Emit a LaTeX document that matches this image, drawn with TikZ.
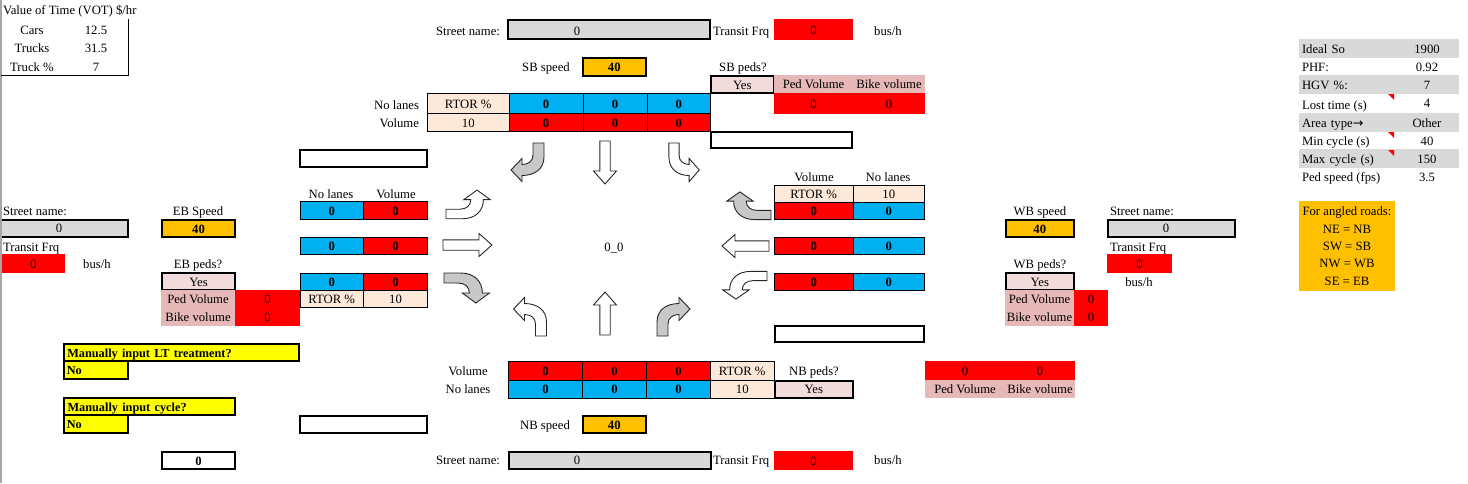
\documentclass[tikz,border=0pt]{standalone}
\usepackage{fontspec}
\setmainfont{Liberation Serif}
\newfontfamily\arrowfont{DejaVu Sans}
\definecolor{cgray}{HTML}{D9D9D9}
\definecolor{cred}{HTML}{FF0000}
\definecolor{cblue}{HTML}{00B0F0}
\definecolor{corange}{HTML}{FFC000}
\definecolor{cpeach}{HTML}{FDE9D9}
\definecolor{cpink}{HTML}{E6B8B7}
\definecolor{cpale}{HTML}{F2DCDB}
\definecolor{cyel}{HTML}{FFFF00}
\definecolor{carrow}{HTML}{C8C8C8}
\newcommand{\yb}{\fontsize{12.3}{14}\selectfont\bfseries}
\tikzset{
  base/.style={inner sep=0pt,outer sep=0pt,text height=10.5pt,text depth=1pt,font=\fontsize{12.7}{14}\selectfont},
  thin/.style={base,draw=black,line width=1pt},
  thick/.style={base,draw=black,line width=2pt},
  flat/.style={base,draw=none},
  lab/.style={base},
  arrowline/.style={draw=black!85,line width=.9pt,line join=miter},
}
% style, name, x1, y1, x2, y2, text
\newcommand{\cellbox}[7]{%
  \pgfmathsetmacro{\cw}{#5-#3}\pgfmathsetmacro{\ch}{#6-#4}%
  \pgfmathsetmacro{\cx}{(#3+#5)/2}\pgfmathsetmacro{\cy}{(#4+#6)/2}%
  \node[#1,minimum width=\cw pt,minimum height=\ch pt] (#2) at (\cx,\cy) {#7};}
% turning arrow: starts going up, bends right
\newcommand{\turnarrow}[2]{%
  \begin{scope}[#1]
  \draw[arrowline,fill=#2] (-5.5,0) -- (-5.5,-14) .. controls (-5.5,-26) and (4,-32.5) .. (16.5,-32.5)
    -- (16.5,-38.5) -- (27.5,-27) -- (16.5,-15.5) -- (16.5,-21.5)
    .. controls (10,-21.5) and (5.5,-18) .. (5.5,-12) -- (5.5,0) -- cycle;
  \end{scope}}
% straight arrow pointing up, parameter: length
\newcommand{\straightarrow}[2]{%
  \begin{scope}[#1]
  \draw[arrowline,fill=white] (-5.2,0) -- (-5.2,-#2+13) -- (-11.5,-#2+13) -- (0,-#2) -- (11.5,-#2+13) -- (5.2,-#2+13) -- (5.2,0) -- cycle;
  \end{scope}}
\begin{document}
\begin{tikzpicture}[x=1pt,y=-1pt]
\useasboundingbox (0,0) rectangle (1468,483);
\fill[white] (0,0) rectangle (1468,483);
\fill[black!35] (0,0) rectangle (1.5,483);

% VOT table
\node[lab,anchor=west] (votT) at (3,10) {Value of Time (VOT) \$/hr};
\node[lab] (carsL) at (32,30) {Cars};
\node[lab] (carsV) at (96,30) {12.5};
\node[lab] (truckL) at (32,48) {Trucks};
\node[lab] (truckV) at (96,48) {31.5};
\node[lab] (tpL) at (32,67) {Truck \%};
\node[lab] (tpV) at (96,67) {7};
\draw[black,line width=1pt] (128.5,19) -- (128.5,75.5) -- (1,75.5);

% North
\node[lab] (nSt) at (468,31) {Street name:};
\cellbox{thick,fill=cgray}{nName}{508}{20}{710}{38.5}{}
\node[lab] (nNameV) at (577,31) {0};
\node[lab,anchor=west] (nTr) at (713,31) {Transit Frq};
\cellbox{flat,fill=cred}{nTrV}{774}{19}{853}{40}{0}
\node[lab] (nBus) at (888,31) {bus/h};
\node[lab] (nSp) at (546,67) {SB speed};
\cellbox{thick,fill=corange}{nSpV}{582.5}{58}{646}{75.5}{\bfseries 40}
\node[lab] (nPed) at (743,67) {SB peds?};
\cellbox{thick,fill=cpale}{nYes}{711}{76}{773.5}{93}{Yes}
\cellbox{flat,fill=cpink}{nPV}{774}{75}{853}{93}{Ped Volume}
\cellbox{flat,fill=cpink}{nBV}{853}{75}{925}{93}{Bike volume}
\cellbox{flat,fill=cred}{nPV0}{774}{93}{853}{114}{0}
\cellbox{flat,fill=cred}{nBV0}{853}{93}{925}{114}{0}
\node[lab,anchor=east] (nLan) at (419,105) {No lanes};
\node[lab,anchor=east] (nVol) at (419,123) {Volume};
\cellbox{thin,fill=cpeach}{nR1}{427.5}{93.5}{509}{113.5}{RTOR \%}
\cellbox{thin,fill=cpeach}{nR2}{427.5}{113.5}{509}{131}{10}
\cellbox{thin,fill=cblue}{nA1}{509}{93.5}{583}{113.5}{\bfseries 0}
\cellbox{thin,fill=cblue}{nA2}{583}{93.5}{647}{113.5}{\bfseries 0}
\cellbox{thin,fill=cblue}{nA3}{647}{93.5}{710.5}{113.5}{\bfseries 0}
\cellbox{thin,fill=cred}{nB1}{509}{113.5}{583}{131}{\bfseries 0}
\cellbox{thin,fill=cred}{nB2}{583}{113.5}{647}{131}{\bfseries 0}
\cellbox{thin,fill=cred}{nB3}{647}{113.5}{710.5}{131}{\bfseries 0}
\cellbox{thick}{nEmpty}{711}{132}{852}{148}{}
\cellbox{thick}{wEmpty1}{300}{150}{427}{166.5}{}

% West
\node[lab,anchor=west] (wSt) at (3,211) {Street name:};
\cellbox{flat,fill=cgray}{wName}{1.5}{220}{127.5}{236.5}{}
\draw[black,line width=2pt] (wName.north west) -- (wName.north east) -- (wName.south east) -- (wName.south west);
\node[lab] (wNameV) at (59,228) {0};
\node[lab,anchor=west] (wTr) at (3,247) {Transit Frq};
\cellbox{flat,fill=cred}{wTrV}{1.5}{254}{65}{273}{0}
\node[lab] (wBus) at (97,264) {bus/h};
\node[lab] (wSp) at (198,211) {EB Speed};
\cellbox{thick,fill=corange}{wSpV}{162}{220}{235}{236.5}{\bfseries 40}
\node[lab] (wPed) at (198,264) {EB peds?};
\cellbox{thick,fill=cpale}{wYes}{162}{273}{235}{289.5}{Yes}
\cellbox{flat,fill=cpink}{wPV}{161}{290}{235}{308}{Ped Volume}
\cellbox{flat,fill=cpink}{wBV}{161}{308}{235}{326}{Bike volume}
\cellbox{flat,fill=cred}{wPV0}{235}{290}{300}{308}{0}
\cellbox{flat,fill=cred}{wBV0}{235}{308}{300}{326}{0}
\node[lab] (wLan) at (331,194) {No lanes};
\node[lab] (wVol) at (396,194) {Volume};
\cellbox{thin,fill=cblue}{wA1}{300}{201.5}{363.5}{219}{\bfseries 0}
\cellbox{thin,fill=cred}{wB1}{363.5}{201.5}{427.5}{219}{\bfseries 0}
\cellbox{thin,fill=cblue}{wA2}{300}{237.5}{363.5}{254}{\bfseries 0}
\cellbox{thin,fill=cred}{wB2}{363.5}{237.5}{427.5}{254}{\bfseries 0}
\cellbox{thin,fill=cblue}{wA3}{300}{273}{363.5}{290}{\bfseries 0}
\cellbox{thin,fill=cred}{wB3}{363.5}{273}{427.5}{290}{\bfseries 0}
\cellbox{thin,fill=cpeach}{wR1}{300}{290}{363.5}{307}{RTOR \%}
\cellbox{thin,fill=cpeach}{wR2}{363.5}{290}{427.5}{307}{10}

% East
\node[lab] (eVol) at (814,177) {Volume};
\node[lab] (eLan) at (888,177) {No lanes};
\cellbox{thin,fill=cpeach}{eR1}{774.5}{185}{853}{202}{RTOR \%}
\cellbox{thin,fill=cpeach}{eR2}{853}{185}{924.5}{202}{10}
\cellbox{thin,fill=cred}{eB1}{774.5}{202}{853}{219}{\bfseries 0}
\cellbox{thin,fill=cblue}{eA1}{853}{202}{924.5}{219}{\bfseries 0}
\cellbox{thin,fill=cred}{eB2}{774.5}{237.5}{853}{254}{\bfseries 0}
\cellbox{thin,fill=cblue}{eA2}{853}{237.5}{924.5}{254}{\bfseries 0}
\cellbox{thin,fill=cred}{eB3}{774.5}{273}{853}{290}{\bfseries 0}
\cellbox{thin,fill=cblue}{eA3}{853}{273}{924.5}{290}{\bfseries 0}
\cellbox{thick}{eEmpty}{775}{326}{924}{342}{}
\node[lab] (eSp) at (1040,211) {WB speed};
\cellbox{thick,fill=corange}{eSpV}{1006}{220}{1073.5}{236.5}{\bfseries 40}
\node[lab] (ePed) at (1040,264) {WB peds?};
\cellbox{thick,fill=cpale}{eYes}{1006}{273}{1073.5}{289.5}{Yes}
\cellbox{flat,fill=cpink}{ePV}{1005}{290}{1074}{308}{Ped Volume}
\cellbox{flat,fill=cpink}{eBV}{1005}{308}{1074}{326}{Bike volume}
\cellbox{flat,fill=cred}{ePV0}{1074}{290}{1108}{308}{0}
\cellbox{flat,fill=cred}{eBV0}{1074}{308}{1108}{326}{0}
\node[lab,anchor=west] (eSt) at (1110,211) {Street name:};
\cellbox{thick,fill=cgray}{eName}{1108}{220}{1235}{236.5}{}
\node[lab] (eNameV) at (1166,228) {0};
\node[lab,anchor=west] (eTr) at (1110,247) {Transit Frq};
\cellbox{flat,fill=cred}{eTrV}{1107}{254}{1172}{273}{0}
\node[lab] (eBus) at (1139,282) {bus/h};

% South
\node[lab] (sVol) at (468,371) {Volume};
\node[lab] (sLan) at (468,389) {No lanes};
\cellbox{thin,fill=cred}{sB1}{508.5}{361.5}{582.5}{380}{\bfseries 0}
\cellbox{thin,fill=cred}{sB2}{582.5}{361.5}{646.5}{380}{\bfseries 0}
\cellbox{thin,fill=cred}{sB3}{646.5}{361.5}{710.5}{380}{\bfseries 0}
\cellbox{thin,fill=cblue}{sA1}{508.5}{380}{582.5}{398}{\bfseries 0}
\cellbox{thin,fill=cblue}{sA2}{582.5}{380}{646.5}{398}{\bfseries 0}
\cellbox{thin,fill=cblue}{sA3}{646.5}{380}{710.5}{398}{\bfseries 0}
\cellbox{thin,fill=cpeach}{sR1}{710.5}{361.5}{774}{380}{RTOR \%}
\cellbox{thin,fill=cpeach}{sR2}{710.5}{380}{774}{398}{10}
\node[lab] (sPed) at (814,371) {NB peds?};
\cellbox{thick,fill=cpale}{sYes}{775}{380.5}{852.5}{397.5}{Yes}
\cellbox{flat,fill=cred}{sPV0}{925}{361}{1005}{380}{0}
\cellbox{flat,fill=cred}{sBV0}{1005}{361}{1075}{380}{0}
\cellbox{flat,fill=cpink}{sPV}{925}{380}{1005}{398}{Ped Volume}
\cellbox{flat,fill=cpink}{sBV}{1005}{380}{1075}{398}{Bike volume}
\node[lab] (sSp) at (545,425) {NB speed};
\cellbox{thick,fill=corange}{sSpV}{582.5}{416}{646}{432.5}{\bfseries 40}
\node[lab] (sSt) at (468,460) {Street name:};
\cellbox{thick,fill=cgray}{sName}{508.5}{452}{710.5}{469}{}
\node[lab] (sNameV) at (577,460) {0};
\node[lab,anchor=west] (sTr) at (713,460) {Transit Frq};
\cellbox{flat,fill=cred}{sTrV}{774}{451}{853}{470}{0}
\node[lab] (sBus) at (888,460) {bus/h};

% Centre
\node[lab] (centre) at (614,247) {0\_0};

% Manual inputs
\cellbox{thick,fill=cyel,text width=228pt,align=left}{m1}{64}{344}{298.5}{360.5}{\yb Manually input LT treatment?}
\cellbox{thick,fill=cyel,text width=58pt,align=left}{m1v}{64}{361}{127.5}{378.5}{\yb No}
\cellbox{thick,fill=cyel,text width=164pt,align=left}{m2}{64}{398}{235}{414.5}{\yb Manually input cycle?}
\cellbox{thick,fill=cyel,text width=58pt,align=left}{m2v}{64}{415}{127.5}{432.5}{\yb No}
\cellbox{thick}{mEmpty}{299.5}{416}{427}{432.5}{}
\cellbox{thick}{mZero}{162}{452}{235}{468.5}{\bfseries 0}

% Right table
\cellbox{flat,fill=cgray,text width=154pt,align=left}{t1}{1299}{39}{1459}{58}{Ideal So}
\node[lab] (t1v) at (1427,48.5) {1900};
\node[lab,anchor=west] (t2) at (1302,66.5) {PHF:};
\node[lab] (t2v) at (1427,66.5) {0.92};
\cellbox{flat,fill=cgray,text width=154pt,align=left}{t3}{1299}{75}{1459}{94}{HGV \%:}
\node[lab] (t3v) at (1427,85) {7};
\node[lab,anchor=west] (t4) at (1302,105) {Lost time (s)};
\node[lab] (t4v) at (1427,103) {4};
\cellbox{flat,fill=cgray,text width=154pt,align=left}{t5}{1299}{113}{1459}{132}{Area type{\arrowfont →}}
\node[lab] (t5v) at (1427,122.5) {Other};
\node[lab,anchor=west] (t6) at (1302,141) {Min cycle (s)};
\node[lab] (t6v) at (1427,141) {40};
\cellbox{flat,fill=cgray,text width=154pt,align=left}{t7}{1299}{149}{1459}{168}{Max cycle (s)}
\node[lab] (t7v) at (1427,158.5) {150};
\node[lab,anchor=west] (t8) at (1302,177) {Ped speed (fps)};
\node[lab] (t8v) at (1427,177) {3.5};
\fill[red] (1388,94) -- (1394,94) -- (1394,100) -- cycle;
\fill[red] (1388,132) -- (1394,132) -- (1394,138) -- cycle;
\fill[red] (1388,150) -- (1394,150) -- (1394,156) -- cycle;

% Orange note
\cellbox{flat,fill=corange}{note}{1299}{201}{1395}{291}{}
\node[lab] (n1) at (1347,211) {For angled roads:};
\node[lab] (n2) at (1347,229) {NE = NB};
\node[lab] (n3) at (1347,246) {SW = SB};
\node[lab] (n4) at (1347,263) {NW = WB};
\node[lab] (n5) at (1347,281) {SE = EB};

% Arrows
\turnarrow{shift={(662.5,336)}}{carrow}
\turnarrow{shift={(541,336)},xscale=-1}{white}
\straightarrow{shift={(605,335)}}{43}
\turnarrow{shift={(538.5,143)},rotate=180}{carrow}
\straightarrow{shift={(605,141)},rotate=180}{43}
\turnarrow{shift={(674,143)},rotate=180,xscale=-.92}{white}
\turnarrow{shift={(771,215)},rotate=90,xscale=.84,yscale=1.15}{carrow}
\straightarrow{shift={(769,246)},rotate=90}{47}
\turnarrow{shift={(767,276)},rotate=90,xscale=-.84,yscale=1.15}{white}
\turnarrow{shift={(446,214)},rotate=-90,xscale=-.87,yscale=1.15}{white}
\straightarrow{shift={(443,245)},rotate=-90}{49}
\turnarrow{shift={(444,278)},rotate=-90,xscale=.91,yscale=1.18}{carrow}
\end{tikzpicture}
\end{document}
